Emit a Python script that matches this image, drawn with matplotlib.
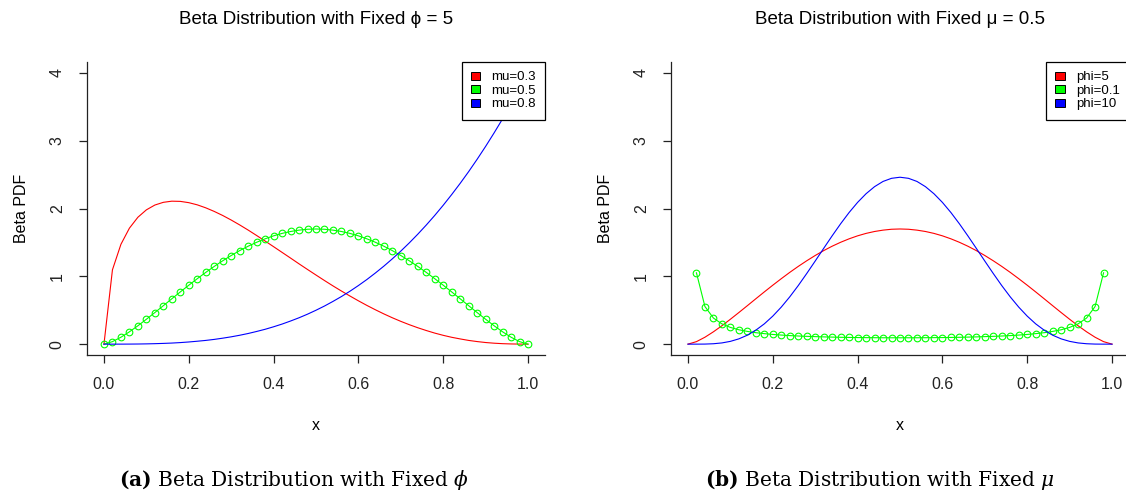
import matplotlib
matplotlib.use('Agg')
import matplotlib.pyplot as plt
from matplotlib.patches import Patch

plt.rcParams['font.family'] = ['Liberation Sans', 'DejaVu Sans']
plt.rcParams['mathtext.fontset'] = 'dejavuserif'

### Data (beta densities, x step 0.02)
x = [0.00, 0.02, 0.04, 0.06, 0.08, 0.10, 0.12, 0.14, 0.16, 0.18,
     0.20, 0.22, 0.24, 0.26, 0.28, 0.30, 0.32, 0.34, 0.36, 0.38,
     0.40, 0.42, 0.44, 0.46, 0.48, 0.50, 0.52, 0.54, 0.56, 0.58,
     0.60, 0.62, 0.64, 0.66, 0.68, 0.70, 0.72, 0.74, 0.76, 0.78,
     0.80, 0.82, 0.84, 0.86, 0.88, 0.90, 0.92, 0.94, 0.96, 0.98, 1.00]

# panel (a): fixed phi = 5
mu03 = [0, 1.096, 1.472, 1.710, 1.871, 1.980, 2.051, 2.091, 2.108, 2.105,
        2.086, 2.054, 2.010, 1.957, 1.897, 1.830, 1.758, 1.682, 1.602, 1.520,
        1.437, 1.353, 1.269, 1.184, 1.101, 1.019, 0.938, 0.859, 0.783, 0.710,
        0.639, 0.571, 0.507, 0.446, 0.389, 0.336, 0.287, 0.242, 0.201, 0.163,
        0.130, 0.101, 0.077, 0.055, 0.038, 0.024, 0.014, 0.007, 0.003, 0.001, 0]
mu05 = [0, 0.037, 0.102, 0.182, 0.271, 0.367, 0.466, 0.567, 0.669, 0.770,
        0.869, 0.965, 1.058, 1.146, 1.229, 1.307, 1.379, 1.444, 1.502, 1.553,
        1.597, 1.633, 1.661, 1.681, 1.694, 1.698, 1.694, 1.681, 1.661, 1.633,
        1.597, 1.553, 1.502, 1.444, 1.379, 1.307, 1.229, 1.146, 1.058, 0.965,
        0.869, 0.770, 0.669, 0.567, 0.466, 0.367, 0.271, 0.182, 0.102, 0.037, 0]
mu08 = [0, 0.00003, 0.0003, 0.0009, 0.002, 0.004, 0.007, 0.011, 0.016, 0.023,
        0.032, 0.043, 0.055, 0.070, 0.088, 0.108, 0.131, 0.157, 0.187, 0.219,
        0.256, 0.296, 0.341, 0.389, 0.442, 0.500, 0.562, 0.630, 0.702, 0.780,
        0.864, 0.953, 1.049, 1.150, 1.258, 1.372, 1.493, 1.621, 1.756, 1.898,
        2.048, 2.206, 2.371, 2.544, 2.726, 2.916, 3.115, 3.322, 3.539, 3.765, 4.0]

# panel (b): fixed mu = 0.5
phi5 = mu05
phi10 = [0, 0.0001, 0.001, 0.006, 0.018, 0.041, 0.078, 0.132, 0.206, 0.299,
         0.413, 0.546, 0.697, 0.863, 1.041, 1.225, 1.412, 1.597, 1.775, 1.941,
         2.090, 2.218, 2.322, 2.399, 2.445, 2.461, 2.445, 2.399, 2.322, 2.218,
         2.090, 1.941, 1.775, 1.597, 1.412, 1.225, 1.041, 0.863, 0.697, 0.546,
         0.413, 0.299, 0.206, 0.132, 0.078, 0.041, 0.018, 0.006, 0.001, 0.0001, 0]
x_inner = x[1:-1]
phi01 = [1.052, 0.555, 0.385, 0.299, 0.247, 0.212, 0.188, 0.169, 0.155, 0.143,
         0.134, 0.126, 0.120, 0.115, 0.111, 0.107, 0.104, 0.101, 0.099, 0.097,
         0.096, 0.095, 0.094, 0.094, 0.094, 0.094, 0.094, 0.095, 0.096, 0.097,
         0.099, 0.101, 0.104, 0.107, 0.111, 0.115, 0.120, 0.126, 0.134, 0.143,
         0.155, 0.169, 0.188, 0.212, 0.247, 0.299, 0.385, 0.555, 1.052]

x_ticks = [0.0, 0.2, 0.4, 0.6, 0.8, 1.0]
y_ticks = [0, 1, 2, 3, 4]

RED, GREEN, BLUE = '#FF0000', '#00FF00', '#0000FF'

fig = plt.figure(figsize=(11.26, 4.99), dpi=100)
W, H = 1126, 499


def make_axes(left_px):
    ax = fig.add_axes([left_px / W, (H - 355) / H, 458 / W, 293 / H])
    ax.set_xlim(-0.04, 1.04)
    ax.set_ylim(-0.16, 4.16)
    for s in ['top', 'right']:
        ax.spines[s].set_visible(False)
    for s in ['left', 'bottom']:
        ax.spines[s].set_linewidth(0.9)
        ax.spines[s].set_color('#222222')
    ax.set_xticks(x_ticks)
    ax.set_xticklabels(['0.0', '0.2', '0.4', '0.6', '0.8', '1.0'])
    ax.set_yticks(y_ticks)
    ax.set_yticklabels([str(t) for t in y_ticks], rotation=90, va='center')
    ax.tick_params(direction='out', length=5.5, width=0.9, pad=10.5,
                   labelsize=11.5, colors='#222222')
    ax.set_xlabel('x', fontsize=11.5)
    ax.xaxis.label.set_va('center')
    ax.xaxis.set_label_coords(0.5, -71 / 293)
    ax.set_ylabel('Beta PDF', fontsize=11.5)
    ax.yaxis.label.set_va('center')
    ax.yaxis.label.set_ha('center')
    ax.yaxis.set_label_coords(-66 / 458, 0.5)
    return ax


def add_legend(ax, labels):
    handles = [Patch(facecolor=c, edgecolor='black', linewidth=0.7)
               for c in [RED, GREEN, BLUE]]
    leg = ax.legend(handles, labels, loc='upper right', bbox_to_anchor=(1, 1),
                    borderaxespad=0, fontsize=9.5, handlelength=0.7,
                    handleheight=0.55, handletextpad=0.85, labelspacing=0.12,
                    borderpad=0.7, fancybox=False, framealpha=1)
    leg.get_frame().set_edgecolor('black')
    leg.get_frame().set_linewidth(0.9)


### Panel (a)
ax1 = make_axes(87)
ax1.plot(x, mu03, color=RED, lw=0.8)
ax1.plot(x, mu05, color=GREEN, lw=0.8, marker='o', ms=4.8, mfc='none', mew=0.8)
ax1.plot(x, mu08, color=BLUE, lw=0.8)
add_legend(ax1, ['mu=0.3', 'mu=0.5', 'mu=0.8'])
ax1.text(0.5, 1 + 42 / 293, 'Beta Distribution with Fixed \u03d5 = 5',
         transform=ax1.transAxes, ha='center', va='center', fontsize=13.5)

### Panel (b)
ax2 = make_axes(671)
ax2.plot(x, phi5, color=RED, lw=0.8)
ax2.plot(x_inner, phi01, color=GREEN, lw=0.8, marker='o', ms=4.8, mfc='none', mew=0.8)
ax2.plot(x, phi10, color=BLUE, lw=0.8)
add_legend(ax2, ['phi=5', 'phi=0.1', 'phi=10'])
ax2.text(0.5, 1 + 42 / 293, 'Beta Distribution with Fixed \u03bc = 0.5',
         transform=ax2.transAxes, ha='center', va='center', fontsize=13.5)

### Captions
fig.text(294 / W, (H - 486) / H, r'$\mathbf{(a)}$ Beta Distribution with Fixed $\phi$',
         ha='center', va='baseline', fontsize=14.5, family='DejaVu Serif')
fig.text(880 / W, (H - 486) / H, r'$\mathbf{(b)}$ Beta Distribution with Fixed $\mu$',
         ha='center', va='baseline', fontsize=14.5, family='DejaVu Serif')

fig.savefig('out.png', dpi=100)
